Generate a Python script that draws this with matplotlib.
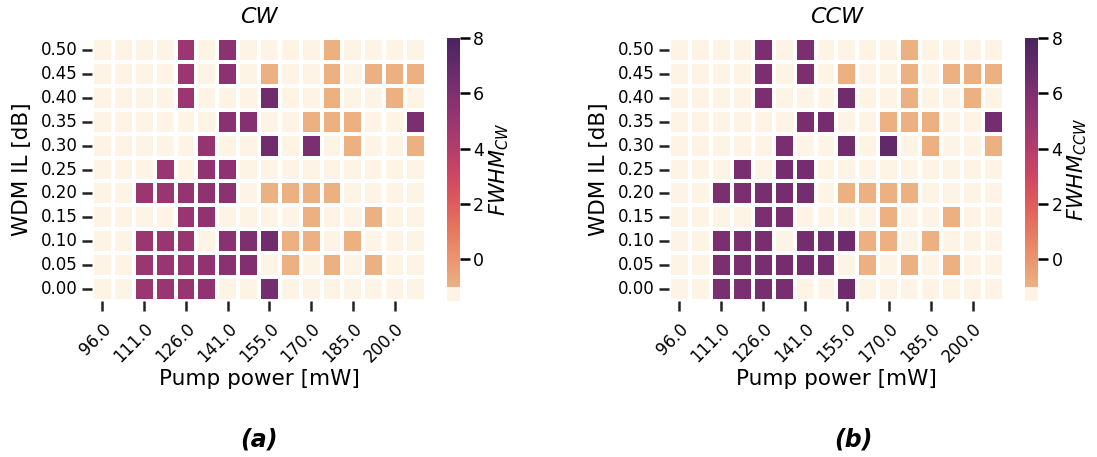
import numpy as np
import matplotlib
matplotlib.use("Agg")
import matplotlib.pyplot as plt
from matplotlib.colors import ListedColormap
import seaborn as sns

# axes values
pump_power = [96.0, 103.0, 111.0, 118.0, 126.0, 133.0, 141.0, 148.0,
              155.0, 163.0, 170.0, 178.0, 185.0, 192.0, 200.0, 207.0]
wdm_il = [0.50, 0.45, 0.40, 0.35, 0.30, 0.25, 0.20, 0.15, 0.10, 0.05, 0.00]

# FWHM values (rows top 0.50 -> bottom 0.00); -1.5 = no lock, -1.0 = low
N = -1.5
fwhm_cw = [
    [N, N, N, N, 4.9, N, 5.5, N, N, N, N, -1, N, N, N, N],
    [N, N, N, N, 4.9, N, 5.5, N, -1, N, N, -1, N, -1, -1, -1],
    [N, N, N, N, 4.9, N, N, N, 6.5, N, N, -1, N, N, -1, N],
    [N, N, N, N, N, N, 5.6, 5.8, N, N, -1, -1, -1, N, N, 6.1],
    [N, N, N, N, N, 5.2, N, N, 6.5, N, 6.1, N, -1, N, N, -1],
    [N, N, N, 5.0, N, 5.3, 5.4, N, N, N, N, N, N, N, N, N],
    [N, N, 4.9, 5.0, 5.2, 5.4, 5.5, N, -1, -1, -1, -1, N, N, N, N],
    [N, N, N, N, 5.0, 5.3, N, N, N, N, -1, N, N, -1, N, N],
    [N, N, 4.9, 5.0, 5.1, N, 5.6, 6.0, 6.5, -1, -1, N, -1, N, N, N],
    [N, N, 4.9, 5.0, 5.1, 5.3, 5.6, 5.9, N, -1, N, -1, N, -1, N, N],
    [N, N, 4.9, 5.0, 5.1, 5.3, N, N, 6.4, N, N, N, N, N, N, N],
]
fwhm_ccw = [
    [N, N, N, N, 6.1, N, 6.1, N, N, N, N, -1, N, N, N, N],
    [N, N, N, N, 6.1, N, 6.1, N, -1, N, N, -1, N, -1, -1, -1],
    [N, N, N, N, 6.1, N, N, N, 6.5, N, N, -1, N, N, -1, N],
    [N, N, N, N, N, N, 6.2, 6.3, N, N, -1, -1, -1, N, N, 6.3],
    [N, N, N, N, N, 6.2, N, N, 6.5, N, 7.1, N, -1, N, N, -1],
    [N, N, N, 6.2, N, 6.3, 6.3, N, N, N, N, N, N, N, N, N],
    [N, N, 6.1, 6.1, 6.2, 6.3, 6.3, N, -1, -1, -1, -1, N, N, N, N],
    [N, N, N, N, 6.1, 6.2, N, N, N, N, -1, N, N, -1, N, N],
    [N, N, 6.1, 6.1, 6.2, N, 6.3, 6.4, 6.7, -1, -1, N, -1, N, N, N],
    [N, N, 6.1, 6.1, 6.2, 6.3, 6.3, 6.4, N, -1, N, -1, N, -1, N, N],
    [N, N, 6.1, 6.1, 6.2, 6.2, N, N, 6.6, N, N, N, N, N, N, N],
]

# colormap: cream for "no lock" then flare
flare = sns.color_palette("flare", as_cmap=True)
cream = np.array([[0.992, 0.957, 0.902, 1.0]] * 10)
cmap = ListedColormap(np.vstack([cream, flare(np.linspace(0, 1, 180))]))

fig = plt.figure(figsize=(10.97, 4.57), dpi=100)

panels = [
    (fwhm_cw, "CW", r"$FWHM_{CW}$", "(a)", 259,
     [0.0839, 0.3414, 0.3044, 0.5754], [0.4072, 0.3414, 0.0121, 0.5754]),
    (fwhm_ccw, "CCW", r"$FWHM_{CCW}$", "(b)", 853,
     [0.6098, 0.3414, 0.3054, 0.5754], [0.9344, 0.3414, 0.0121, 0.5754]),
]

for data, title, clabel, letter, lx, apos, cpos in panels:
    ax = fig.add_axes(apos)
    cax = fig.add_axes(cpos)
    sns.heatmap(np.array(data), ax=ax, cbar_ax=cax, cmap=cmap, vmin=-1.5, vmax=8,
                linewidths=1.5, linecolor="white",
                xticklabels=pump_power, yticklabels=["%.2f" % v for v in wdm_il])
    ax.set_xticks(np.arange(0, 16, 2) + 0.5)
    ax.set_xticklabels(["%.1f" % v for v in pump_power[::2]], rotation=45,
                       ha="right", rotation_mode="anchor")
    ax.set_yticklabels(["%.2f" % v for v in wdm_il], rotation=0)
    ax.tick_params(length=7.5, width=1.8, color="#222222", labelsize=12, pad=3)
    ax.tick_params(axis="x", pad=6)
    ax.set_xlabel("Pump power [mW]", fontsize=15.5, labelpad=2)
    ax.set_ylabel("WDM IL [dB]", fontsize=15.5, labelpad=6)
    ax.set_title(title, fontsize=16, style="italic", pad=11)
    fig.text(lx / 1097, 1 - 440 / 457, letter, ha="center", va="center",
             fontsize=17, fontweight="bold", style="italic")
    cax.set_yticks([0, 2, 4, 6, 8])
    cax.tick_params(labelsize=12.5, length=7.5, width=1.8, pad=2)
    cax.set_ylabel(clabel, fontsize=15, labelpad=2)
    for s in cax.spines.values():
        s.set_visible(False)

plt.savefig("out.png", dpi=100)
plt.close()
